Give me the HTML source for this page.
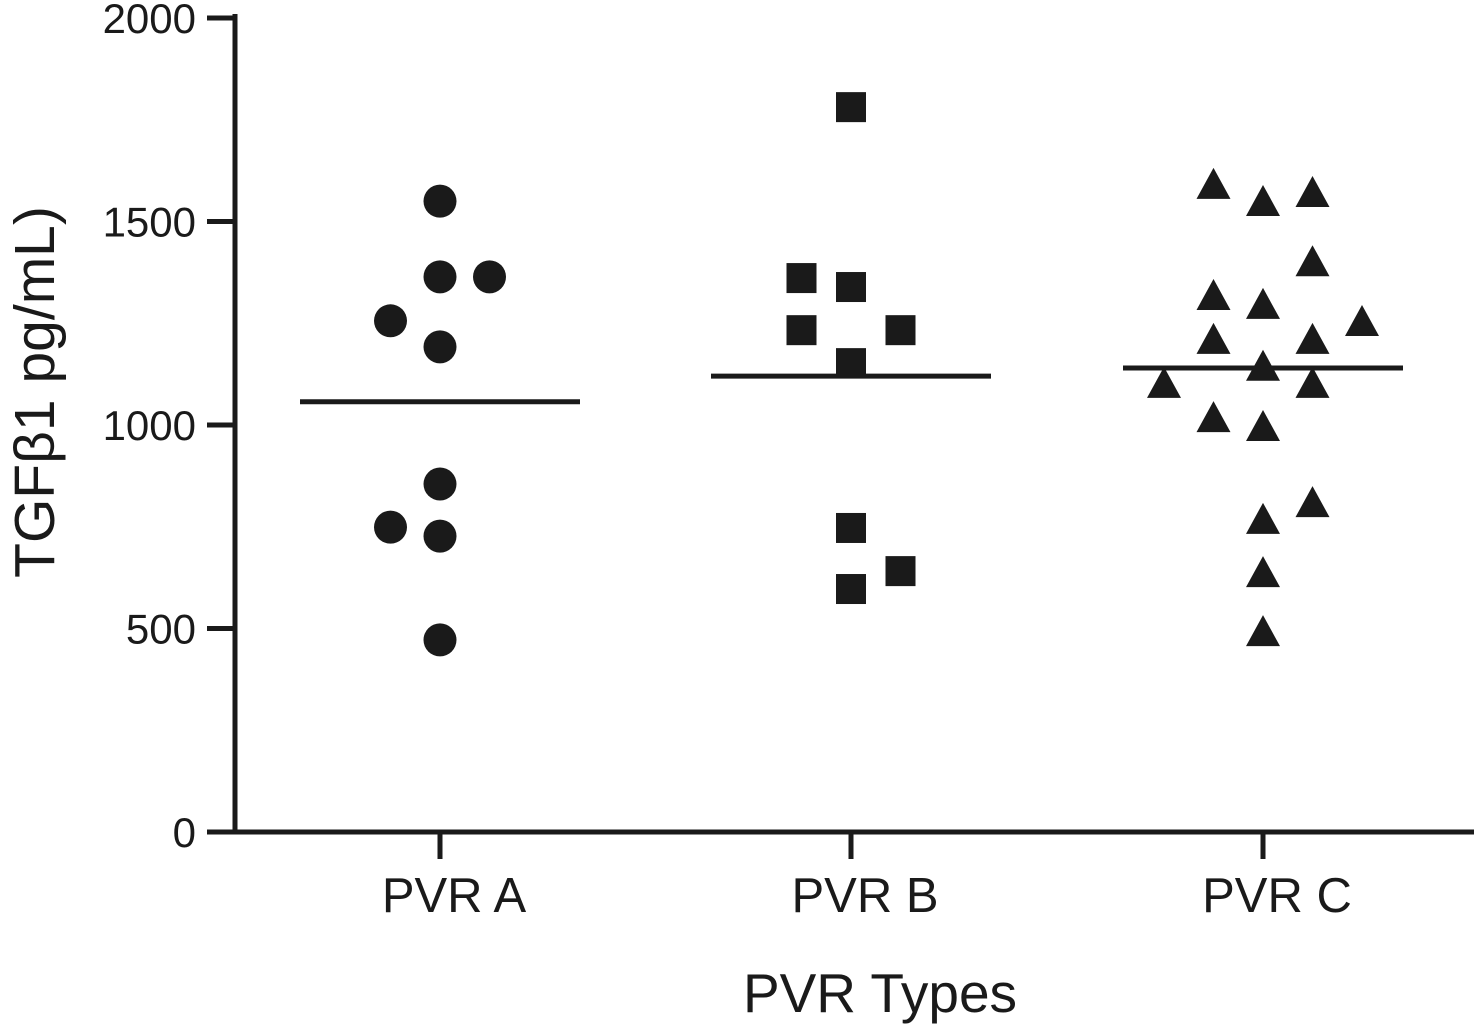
<!DOCTYPE html>
<html><head><meta charset="utf-8"><style>
body{margin:0;background:#fff;}
svg{display:block;font-family:"Liberation Sans",Arial,sans-serif;}
</style></head><body>
<svg width="1474" height="1024" viewBox="0 0 1474 1024">
<g id="g"></g>
</svg>
<script>
const categories=["PVR A","PVR B","PVR C"];
const yTicks=[0,500,1000,1500,2000];
const seriesA=[[0,1550],[0,1364],[1,1364],[-1,1256],[0,1192],[0,855],[-1,749],[0,727],[0,472]];
const seriesB=[[0,1781],[-1,1361],[0,1339],[-1,1233],[1,1233],[0,1152],[0,747],[1,641],[0,597]];
const seriesC=[[-1,1590],[0,1548],[1,1570],[1,1400],[-1,1317],[0,1295],[2,1253],[-1,1209],[1,1209],[0,1143],[-2,1101],[1,1101],[-1,1017],[0,995],[1,808],[0,767],[0,636],[0,491]];
const means=[1057,1120,1140];

const NS="http://www.w3.org/2000/svg";
const g=document.getElementById('g');
const y0=832,yTop=18,xL=235;
function yS(v){return y0-(v/2000)*(y0-yTop);}
const catX=[440,851,1263];
function xS(i,off){return catX[i]+off*49.5;}
function el(t,a,p){const e=document.createElementNS(NS,t);for(const k in a)e.setAttribute(k,a[k]);(p||g).appendChild(e);return e;}

let ax=el('line',{x1:xL,y1:14,x2:xL,y2:y0+2,stroke:'#1a1a1a','stroke-width':5});


let ax2=el('line',{x1:xL-2,y1:y0,x2:1474,y2:y0,stroke:'#1a1a1a','stroke-width':5});


yTicks.forEach(v=>{
  let t=el('line',{x1:207,y1:yS(v),x2:xL,y2:yS(v),stroke:'#1a1a1a','stroke-width':5});
  
  
  let l=el('text',{x:196,y:yS(v)+15,'text-anchor':'end','font-size':42,fill:'#1a1a1a'});
  l.textContent=v;
  
  
});
categories.forEach((c,i)=>{
  let t=el('line',{x1:catX[i],y1:y0,x2:catX[i],y2:859,stroke:'#1a1a1a','stroke-width':5});
  
  
  let l=el('text',{x:catX[i]+14,y:912,'text-anchor':'middle','font-size':49,fill:'#1a1a1a'});
  l.textContent=c;
  
  
});
let xt=el('text',{x:880,y:1012,'text-anchor':'middle','font-size':55,fill:'#1a1a1a'});
xt.textContent='PVR Types';


let yt=el('text',{x:0,y:0,'text-anchor':'middle','font-size':57,fill:'#1a1a1a',transform:'translate(54,392) rotate(-90)'});
yt.textContent='TGFβ1 pg/mL)';



seriesA.forEach(p=>{
  let m=el('circle',{cx:xS(0,p[0]),cy:yS(p[1]),r:16.5,fill:'#1a1a1a'});
  
  
});
seriesB.forEach(p=>{
  const x=xS(1,p[0]),y=yS(p[1]);
  let m=el('rect',{x:x-15,y:y-15,width:30,height:30,fill:'#1a1a1a'});
  
  
});
seriesC.forEach(p=>{
  const x=xS(2,p[0]),y=yS(p[1]);
  let m=el('polygon',{points:`${x},${y-17} ${x-17},${y+14} ${x+17},${y+14}`,fill:'#1a1a1a'});
  
  
});
means.forEach((v,i)=>{
  let m=el('line',{x1:catX[i]-140,y1:yS(v),x2:catX[i]+140,y2:yS(v),stroke:'#1a1a1a','stroke-width':5});
  
  
});
</script>
</body></html>
